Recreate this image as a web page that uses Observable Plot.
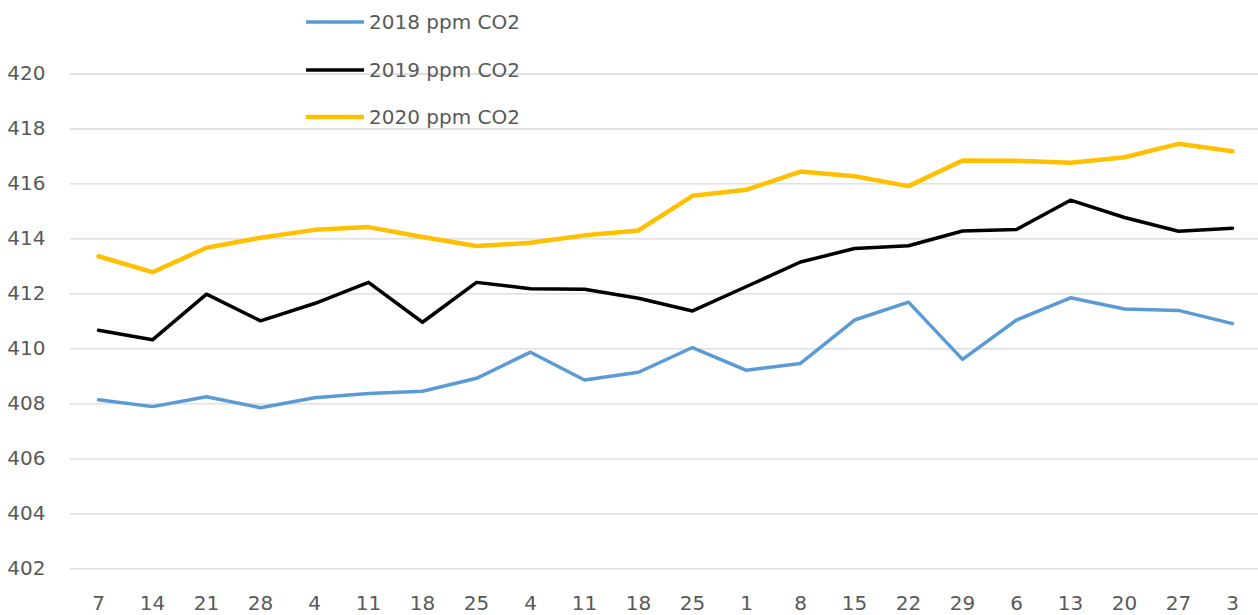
<!DOCTYPE html>
<html>
<head>
<meta charset="utf-8">
<script src="https://cdn.jsdelivr.net/npm/d3@7"></script>
<script src="https://cdn.jsdelivr.net/npm/@observablehq/plot@0.6"></script>
<style>
  body { margin: 0; background: #fff; }
  #wrap { position: relative; width: 1258px; height: 615px; overflow: hidden; }
  #legend { position: absolute; left: 306px; top: 0; font-family: "DejaVu Sans"; font-size: 20px; color: #595959; }
  .item { position: absolute; left: 0; height: 30px; display: flex; align-items: center; white-space: nowrap; }
  .item svg { margin-right: 5px; }
</style>
</head>
<body>
<div id="wrap"><div id="chart"></div><div id="legend"></div></div>
<script>
// Week-of-month labels on the category axis
const weekLabels = ["7","14","21","28","4","11","18","25","4","11","18","25","1","8","15","22","29","6","13","20","27","3"];

// ppm CO2 values
const co2_2018 = [408.15,407.9,408.26,407.86,408.22,408.38,408.46,408.93,409.88,408.87,409.15,410.05,409.22,409.47,411.05,411.7,409.62,411.05,411.86,411.45,411.4,410.92];
const co2_2019 = [410.68,410.33,411.99,411.02,411.65,412.42,410.97,412.42,412.19,412.17,411.84,411.38,412.27,413.16,413.65,413.75,414.29,414.34,415.41,414.78,414.28,414.39];
const co2_2020 = [413.37,412.79,413.68,414.04,414.33,414.43,414.07,413.74,413.86,414.13,414.31,415.57,415.79,416.45,416.28,415.92,416.85,416.84,416.77,416.97,417.46,417.19];

const seriesNames = ["2018 ppm CO2", "2019 ppm CO2", "2020 ppm CO2"];
const seriesColors = ["#5B9BD5", "#000000", "#FFC000"];
const seriesWidths = [3.5, 3.5, 4.5];
const yTicks = [402, 404, 406, 408, 410, 412, 414, 416, 418, 420];

const seriesValues = [co2_2018, co2_2019, co2_2020];
const rows = seriesValues.map((vals, s) => vals.map((v, i) => ({ i, value: v, series: seriesNames[s] })));

const chart = Plot.plot({
  width: 1258,
  height: 615,
  marginLeft: 70,
  marginRight: 0,
  marginTop: 73.5,
  marginBottom: 46.7,
  style: { fontFamily: "DejaVu Sans", fontSize: "20px", color: "#595959", background: "#fff" },
  x: { type: "point", domain: d3.range(weekLabels.length), range: [70, 1260], padding: 0.5, label: null },
  y: { domain: [402, 420], label: null },
  marks: [
    Plot.gridY(yTicks, { stroke: "#d9d9d9", strokeOpacity: 1, strokeWidth: 1.3 }),
    Plot.axisY(yTicks, { tickSize: 0, tickPadding: 25, fill: "#595959", fontSize: 20 }),
    Plot.axisX({ tickSize: 0, tickPadding: 27, tickFormat: i => weekLabels[i], fill: "#595959", fontSize: 20 }),
    ...rows.map((r, s) => Plot.line(r, {
      x: "i", y: "value", stroke: seriesColors[s], strokeWidth: seriesWidths[s],
      strokeLinejoin: "round", strokeLinecap: "round"
    }))
  ]
});
document.getElementById("chart").appendChild(chart);

// Legend (overlaid at top, as in the original)
const legendTops = [22, 70, 117];
const legend = document.getElementById("legend");
seriesNames.forEach((name, s) => {
  const item = document.createElement("div");
  item.className = "item";
  item.style.top = (legendTops[s] - 15) + "px";
  item.innerHTML = `<svg width="58" height="10"><line x1="1" y1="5" x2="57" y2="5" stroke="${seriesColors[s]}" stroke-width="${seriesWidths[s]}" stroke-linecap="round"/></svg><span>${name}</span>`;
  legend.appendChild(item);
});
</script>
</body>
</html>
